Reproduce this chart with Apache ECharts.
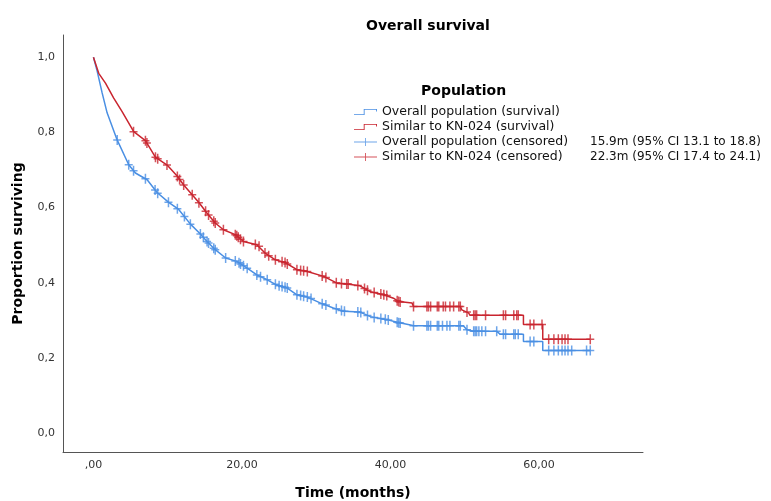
<!DOCTYPE html>
<html>
<head>
<meta charset="utf-8">
<script src="https://cdn.jsdelivr.net/npm/echarts@6/dist/echarts.min.js"></script>
<style>
  html, body { margin: 0; padding: 0; background: #fff; }
  #chart { width: 771px; height: 501px; }
</style>
</head>
<body>
<div id="chart"></div>
<script>
// curve vertices [months, proportion]
const overallCurve = [
  [0, 1.0], [0.5, 0.963], [1.17, 0.905], [1.84, 0.852], [3.19, 0.780], [4.75, 0.714],
  [5.65, 0.692], [7.23, 0.674], [8.57, 0.640], [10.13, 0.614], [11.48, 0.595], [13.06, 0.556],
  [14.4, 0.530], [15.3, 0.510], [16.4, 0.488], [17.8, 0.466], [19.3, 0.457], [20.7, 0.439],
  [22.0, 0.421], [23.4, 0.408], [24.7, 0.394], [26.1, 0.386], [27.4, 0.368], [28.8, 0.362],
  [30.6, 0.346], [32.3, 0.333], [33.7, 0.324], [35.9, 0.322], [37.3, 0.310], [39.5, 0.302],
  [40.9, 0.295], [42.7, 0.288], [43.1, 0.286], [49.8, 0.286], [50.3, 0.275], [51.2, 0.271],
  [54.3, 0.271], [54.8, 0.263], [57.9, 0.263], [57.9, 0.244], [60.5, 0.244], [60.5, 0.220],
  [66.9, 0.220]
];
const similarCurve = [
  [0, 1.0], [0.71, 0.957], [1.62, 0.931], [2.73, 0.891], [3.86, 0.855], [5.42, 0.802],
  [7.0, 0.778], [8.34, 0.734], [9.92, 0.713], [11.27, 0.684], [12.15, 0.660], [14.17, 0.614],
  [15.3, 0.585], [16.4, 0.559], [17.5, 0.541], [19.1, 0.528], [20.2, 0.510], [22.0, 0.501],
  [23.1, 0.479], [24.5, 0.461], [25.8, 0.454], [27.4, 0.435], [28.8, 0.430], [31.0, 0.417],
  [32.8, 0.399], [34.1, 0.397], [35.9, 0.392], [37.3, 0.376], [39.1, 0.368], [40.4, 0.359],
  [41.1, 0.350], [42.9, 0.346], [43.1, 0.337], [49.4, 0.337], [49.6, 0.328], [50.5, 0.320],
  [50.7, 0.314], [57.9, 0.314], [57.9, 0.289], [60.5, 0.289], [60.5, 0.250], [66.9, 0.250]
];

// censored observations [months, proportion]
const overallCensored = [
  [3.2, 0.780], [4.75, 0.714], [5.4, 0.698], [7.0, 0.677], [8.3, 0.647], [8.65, 0.638],
  [10.1, 0.614], [11.3, 0.597], [12.25, 0.576], [13.05, 0.556], [14.4, 0.530], [14.8, 0.521],
  [15.3, 0.510], [15.5, 0.506], [16.2, 0.492], [16.4, 0.488], [17.8, 0.466], [19.1, 0.458],
  [19.6, 0.453], [19.8, 0.450], [20.2, 0.445], [20.7, 0.439], [22.0, 0.421], [22.5, 0.416],
  [23.4, 0.408], [24.5, 0.396], [25.0, 0.392], [25.4, 0.390], [25.8, 0.388], [26.1, 0.386],
  [27.4, 0.368], [27.9, 0.366], [28.3, 0.364], [28.8, 0.362], [29.3, 0.358], [30.8, 0.344],
  [31.3, 0.341], [32.7, 0.331], [33.4, 0.326], [33.8, 0.324], [35.6, 0.322], [36.0, 0.321],
  [36.9, 0.313], [37.8, 0.308], [38.7, 0.305], [39.3, 0.303], [39.7, 0.301], [40.9, 0.295],
  [41.1, 0.294], [41.3, 0.293], [43.1, 0.286], [44.9, 0.286], [45.1, 0.286], [45.4, 0.286],
  [46.3, 0.286], [46.5, 0.286], [47.0, 0.286], [47.6, 0.286], [48.0, 0.286], [49.2, 0.286],
  [49.4, 0.286], [50.3, 0.275], [51.2, 0.271], [51.4, 0.271], [51.6, 0.271], [51.9, 0.271],
  [52.3, 0.271], [52.8, 0.271], [54.3, 0.271], [55.2, 0.263], [55.5, 0.263], [56.6, 0.263],
  [56.8, 0.263], [57.2, 0.263], [58.8, 0.244], [59.3, 0.244], [61.3, 0.220], [62.0, 0.220],
  [62.6, 0.220], [63.1, 0.220], [63.5, 0.220], [63.9, 0.220], [64.4, 0.220], [66.4, 0.220],
  [66.9, 0.220]
];
const similarCensored = [
  [5.4, 0.802], [7.0, 0.778], [7.2, 0.772], [8.35, 0.734], [8.65, 0.730], [9.9, 0.713],
  [11.3, 0.683], [11.6, 0.675], [12.15, 0.660], [13.3, 0.634], [14.2, 0.613], [15.1, 0.590],
  [15.5, 0.580], [16.2, 0.564], [16.4, 0.559], [17.5, 0.541], [19.1, 0.528], [19.3, 0.525],
  [19.5, 0.521], [19.8, 0.516], [20.2, 0.510], [21.8, 0.502], [22.3, 0.497], [23.1, 0.479],
  [23.6, 0.472], [24.5, 0.461], [25.4, 0.456], [25.8, 0.454], [26.1, 0.450], [27.4, 0.435],
  [27.9, 0.433], [28.3, 0.432], [28.8, 0.430], [30.8, 0.418], [31.3, 0.414], [32.7, 0.400],
  [33.4, 0.398], [34.1, 0.397], [34.3, 0.397], [35.6, 0.393], [36.5, 0.385], [36.9, 0.380],
  [37.8, 0.374], [38.7, 0.370], [39.1, 0.368], [39.5, 0.366], [40.9, 0.352], [41.1, 0.350],
  [41.3, 0.349], [43.1, 0.337], [44.9, 0.337], [45.1, 0.337], [45.4, 0.337], [46.3, 0.337],
  [46.5, 0.337], [47.1, 0.337], [47.4, 0.337], [48.0, 0.337], [48.5, 0.337], [49.2, 0.337],
  [49.4, 0.337], [50.3, 0.322], [51.2, 0.314], [51.4, 0.314], [51.6, 0.314], [52.8, 0.314],
  [55.2, 0.314], [55.5, 0.314], [56.6, 0.314], [57.0, 0.314], [57.2, 0.314], [58.8, 0.289],
  [59.3, 0.289], [60.4, 0.289], [61.3, 0.250], [62.0, 0.250], [62.6, 0.250], [63.1, 0.250],
  [63.5, 0.250], [63.9, 0.250], [66.9, 0.250]
];

const seriesNames = [
  'Overall population (survival)',
  'Similar to KN-024 (survival)',
  'Overall population (censored)',
  'Similar to KN-024 (censored)'
];
const medianLabels = {
  'Overall population (censored)': '15.9m (95% CI 13.1 to 18.8)',
  'Similar to KN-024 (censored)': '22.3m (95% CI 17.4 to 24.1)'
};

const xTickValues = [0, 20, 40, 60];
const xTickLabels = [',00', '20,00', '40,00', '60,00'];
const yTickValues = [0, 0.2, 0.4, 0.6, 0.8, 1.0];
const yTickLabels = ['0,0', '0,2', '0,4', '0,6', '0,8', '1,0'];

const BLUE = '#4a8fe3';
const RED = '#c9252f';
const FONT = 'DejaVu Sans';

const stepIcon = 'path://M0,7H11V1H26V4H25V2H12V8H0Z';
const plusIcon = 'path://M12.5,0H13.5V4H26V5H13.5V9H12.5V5H0V4H12.5Z';
const plusMark = 'path://M6.5,0H9.5V8.5H16V11.5H9.5V20H6.5V11.5H0V8.5H6.5Z';

function tickLabel(values, labels, v) {
  const i = values.findIndex(t => Math.abs(t - v) < 1e-6);
  return i >= 0 ? labels[i] : '';
}

const chart = echarts.init(document.getElementById('chart'), null, { renderer: 'canvas' });

const option = {
  backgroundColor: '#ffffff',
  animation: false,
  title: [{
    text: 'Overall survival',
    left: 361,
    top: 14,
    textStyle: { fontFamily: FONT, fontSize: 14, fontWeight: 'bold', color: '#000' }
  }, {
    text: 'Population',
    left: 416,
    top: 79,
    textStyle: { fontFamily: FONT, fontSize: 14, fontWeight: 'bold', color: '#000' }
  }],
  legend: {
    orient: 'vertical',
    left: 354,
    top: 105,
    padding: 0,
    itemWidth: 23,
    itemHeight: 9,
    itemGap: 1,
    selectedMode: false,
    data: [
      { name: seriesNames[0], icon: stepIcon },
      { name: seriesNames[1], icon: stepIcon },
      { name: seriesNames[2], icon: plusIcon },
      { name: seriesNames[3], icon: plusIcon }
    ],
    formatter: function (name) {
      return '{a|' + name + '}{b|' + (medianLabels[name] || '') + '}';
    },
    textStyle: {
      fontFamily: FONT,
      fontSize: 12.5,
      color: '#111',
      lineHeight: 14,
      rich: {
        a: { fontFamily: FONT, fontSize: 12.5, color: '#111', width: 208 },
        b: { fontFamily: FONT, fontSize: 12, color: '#111' }
      }
    }
  },
  grid: {
    left: 63, right: 128, top: 35, bottom: 49,
    containLabel: false,
    outerBoundsMode: 'none'
  },
  xAxis: {
    type: 'value',
    min: -4.1,
    max: 74,
    name: 'Time (months)',
    nameLocation: 'middle',
    nameGap: 34,
    nameTextStyle: { fontFamily: FONT, fontSize: 14, fontWeight: 'bold', color: '#000' },
    axisLine: { onZero: false, lineStyle: { color: '#555', width: 1 } },
    axisTick: { show: false },
    splitLine: { show: false },
    axisLabel: {
      customValues: xTickValues,
      margin: 8,
      fontFamily: FONT,
      fontSize: 11,
      color: '#333',
      formatter: v => tickLabel(xTickValues, xTickLabels, v)
    }
  },
  yAxis: {
    type: 'value',
    min: -0.05,
    max: 1.059,
    name: 'Proportion surviving',
    nameLocation: 'middle',
    nameGap: 38,
    nameTextStyle: { fontFamily: FONT, fontSize: 14, fontWeight: 'bold', color: '#000' },
    axisLine: { show: true, onZero: false, lineStyle: { color: '#555', width: 1 } },
    axisTick: { show: false },
    splitLine: { show: false },
    axisLabel: {
      customValues: yTickValues,
      margin: 8,
      fontFamily: FONT,
      fontSize: 11,
      color: '#333',
      formatter: v => tickLabel(yTickValues, yTickLabels, v)
    }
  },
  series: [{
    name: seriesNames[0],
    type: 'line',
    data: overallCurve,
    showSymbol: false,
    color: BLUE,
    lineStyle: { color: BLUE, width: 1.5 }
  }, {
    name: seriesNames[1],
    type: 'line',
    data: similarCurve,
    showSymbol: false,
    color: RED,
    lineStyle: { color: RED, width: 1.5 }
  }, {
    name: seriesNames[2],
    type: 'scatter',
    data: overallCensored,
    symbol: plusMark,
    symbolSize: [8, 10],
    color: BLUE,
    itemStyle: { color: BLUE, opacity: 0.8 }
  }, {
    name: seriesNames[3],
    type: 'scatter',
    data: similarCensored,
    symbol: plusMark,
    symbolSize: [8, 10],
    color: RED,
    itemStyle: { color: RED, opacity: 0.8 }
  }]
};

chart.setOption(option);
</script>
</body>
</html>
